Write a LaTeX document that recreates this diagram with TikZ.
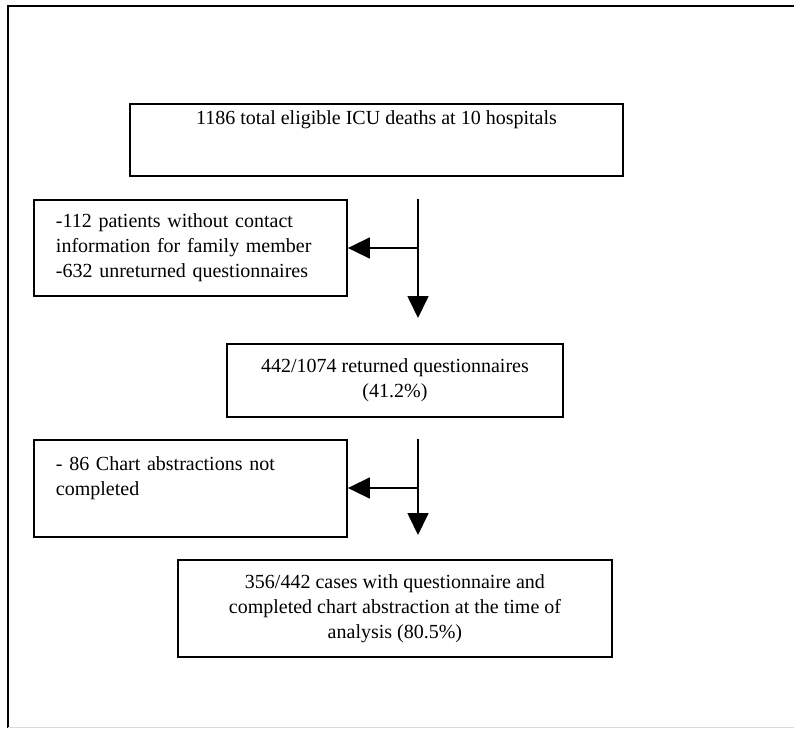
\documentclass[tikz,border=0pt]{standalone}
\usepackage{fontspec}
\setmainfont{Liberation Serif}
\usetikzlibrary{arrows.meta}
\begin{document}
\begin{tikzpicture}[x=1pt,y=-1pt,
  box/.style={draw=black, line width=1.9pt, inner sep=0pt, font=\fontsize{20}{25}\selectfont},
  cbox/.style={box, align=center},
  lbox/.style={box, align=left, inner xsep=22pt},
  conn/.style={line width=1.7pt, -{Triangle[length=22pt,width=21pt]}},
  frameline/.style={line width=2pt}]
\useasboundingbox (0,0) rectangle (794,728);
\fill[white] (0,0) rectangle (794,728);
% outer frame
\coordinate (ftl) at (8,6);
\coordinate (ftr) at (794,6);
\coordinate (fbl) at (8,728);
\draw[frameline] (ftr) -- (ftl) -- (fbl);
\draw[gray!30, line width=1pt] (8,727) -- (794,727);
% boxes
\node[box, anchor=north west, minimum width=493pt, text height=21pt, text depth=51pt] (b1) at (129,103) {1186 total eligible ICU deaths at 10 hospitals};
\node[lbox, anchor=north west, minimum width=313pt, minimum height=96pt, text width=269pt] (b2) at (33,199)
  {-112 patients without contact\\information for family member\\-632 unreturned questionnaires};
\node[cbox, anchor=north west, minimum width=336pt, minimum height=73pt] (b3) at (226,343)
  {442/1074 returned questionnaires\\(41.2\%)};
\node[lbox, anchor=north west, minimum width=313pt, minimum height=97pt, text width=269pt] (b4) at (33,439)
  {- 86 Chart abstractions not\\completed\\\mbox{}};
\node[cbox, anchor=north west, minimum width=434pt, minimum height=97pt] (b5) at (177,559)
  {356/442 cases with questionnaire and\\completed chart abstraction at the time of\\analysis (80.5\%)};
% connectors
\coordinate (v1s) at (418,199);
\coordinate (v1e) at (418,318);
\coordinate (j1) at (418,248);
\coordinate (v2s) at (418,439);
\coordinate (v2e) at (418,535);
\coordinate (j2) at (418,488);
\draw[conn] (v1s) -- (v1e);
\draw[conn] (j1) -- (b2.east |- j1);
\draw[conn] (v2s) -- (v2e);
\draw[conn] (j2) -- (b4.east |- j2);
\end{tikzpicture}
\end{document}
